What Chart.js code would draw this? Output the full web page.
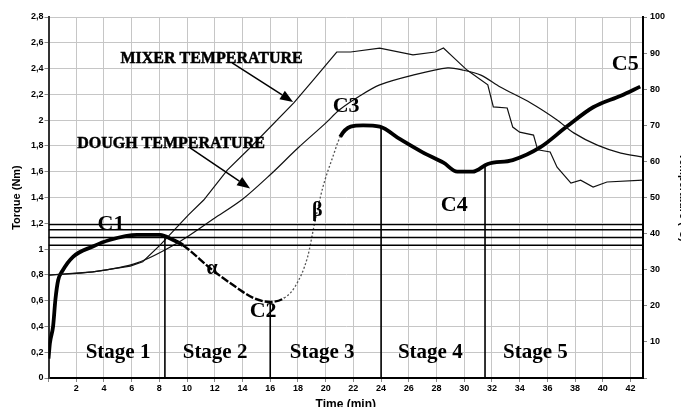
<!DOCTYPE html>
<html><head><meta charset="utf-8">
<script src="https://cdn.jsdelivr.net/npm/chart.js@4.4.1/dist/chart.umd.min.js"></script>
<style>
html,body{margin:0;padding:0;background:#fff;overflow:hidden;width:681px;height:407px}
#wrap{position:relative;width:690px;height:414px}
canvas{display:block}
</style></head><body>
<div id="wrap"><canvas id="c" width="690" height="414"></canvas></div>
<script>
// ---- data ----
const timeMin  = [0, 0.1, 0.33, 0.5, 0.7, 1.0, 1.77, 3.2, 4.4, 6.4, 8.05, 9.0, 9.7, 11.8, 13.6, 14.8, 16.0, 17.0, 17.8, 18.7, 19.2, 19.8, 20.5, 21.05, 21.8, 22.7, 23.9, 25.4, 27.0, 28.5, 29.5, 30.6, 31.7, 33.5, 35.5, 37.4, 39.3, 41.3, 42.7];
const torqueNm = [0.15, 0.27, 0.40, 0.61, 0.76, 0.83, 0.94, 1.02, 1.07, 1.11, 1.11, 1.07, 1.03, 0.84, 0.70, 0.62, 0.59, 0.62, 0.71, 0.94, 1.20, 1.48, 1.71, 1.87, 1.95, 1.96, 1.95, 1.85, 1.75, 1.67, 1.60, 1.60, 1.66, 1.69, 1.79, 1.95, 2.10, 2.19, 2.26];

const mixerTime = [0, 3.2, 5.9, 6.8, 8.05, 10.1, 11.2, 12.9, 14.6, 17.7, 19.1, 20.8, 21.8, 23.9, 26.3, 27.9, 28.5, 29.2, 30.2, 31.7, 32.1, 33.1, 33.5, 34.0, 35.0, 35.3, 36.2, 36.7, 37.7, 38.4, 39.3, 40.3, 42.9];
const mixerTemp = [28.5, 29.4, 31.0, 32.2, 36.8, 45.2, 49.3, 57.6, 64.0, 76.2, 82.5, 90.3, 90.3, 91.4, 89.5, 90.3, 91.4, 88.9, 85.3, 81.2, 75.1, 74.8, 69.5, 68.1, 67.3, 63.2, 62.6, 58.4, 54.0, 54.8, 52.9, 54.3, 54.8];

const doughTime = [0, 3.2, 6.4, 9.3, 12.0, 14.0, 16.0, 18.0, 20.0, 21.0, 22.4, 23.9, 26.3, 28.8, 29.9, 31.2, 32.6, 34.8, 36.7, 37.9, 39.6, 41.3, 42.9];
const doughTemp = [28.5, 29.4, 31.9, 37.4, 44.3, 49.5, 56.3, 63.7, 70.6, 74.3, 78.0, 81.2, 83.9, 85.9, 85.3, 83.9, 80.6, 76.2, 71.5, 67.9, 64.5, 62.3, 61.2];

const limitLevels   = [1.19, 1.15, 1.09, 1.03];
const stageLineTime = [8.4, 16, 24, 31.5];
const stageLineTop  = [1.11, 0.59, 1.95, 1.66];

const torqueTickLabels = ['0','0,2','0,4','0,6','0,8','1','1,2','1,4','1,6','1,8','2','2,2','2,4','2,6','2,8'];
const tempTickLabels   = ['','10','20','30','40','50','60','70','80','90','100'];
const timeTickLabels   = ['','2','4','6','8','10','12','14','16','18','20','22','24','26','28','30','32','34','36','38','40','42'];

const pointText   = ['C1','C2','C3','C4','C5','\u03B2','\u03B1'];
const pointTime   = [4.51, 15.49, 21.48, 29.28, 41.62, 19.39, 11.8];
const pointTorque = [1.148, 0.473, 2.064, 1.296, 2.39, 1.257, 0.807];

const stageText   = ['Stage 1','Stage 2','Stage 3','Stage 4','Stage 5'];
const stageTime   = [5.02, 12.02, 19.75, 27.55, 35.13];
const stageTorque = [0.155, 0.155, 0.155, 0.155, 0.155];

const curveText   = ['MIXER TEMPERATURE','DOUGH TEMPERATURE'];
const curveTime   = [11.77, 8.84];
const curveTorque = [2.444, 1.784];
const arrowFromTime = [13.25, 10.22], arrowFromTorque = [2.444, 1.784];
const arrowToTime   = [17.65, 14.55], arrowToTorque   = [2.141, 1.47];

// ---- build datasets ----
const zip = (xs, ys) => xs.map((x, i) => ({x, y: ys[i]}));
const datasets = [];
limitLevels.forEach(v => datasets.push({data: [{x:0,y:v},{x:42.9,y:v}], borderColor:'#000', borderWidth:1.4, pointRadius:0, yAxisID:'y'}));
stageLineTime.forEach((t, i) => datasets.push({data: [{x:t,y:0},{x:t,y:stageLineTop[i]}], borderColor:'#000', borderWidth:1.6, pointRadius:0, yAxisID:'y'}));
datasets.push({data: zip(mixerTime, mixerTemp), yAxisID:'y2', borderColor:'#111', borderWidth:1.2, pointRadius:0, tension:0});
datasets.push({data: zip(doughTime, doughTemp), yAxisID:'y2', borderColor:'#111', borderWidth:1.2, pointRadius:0, tension:0.3});
const inBeta  = c => c.p0.parsed.x >= 16.9 && c.p0.parsed.x < 21;
const inAlpha = c => c.p0.parsed.x >= 9.7 && c.p0.parsed.x < 16.9;
datasets.push({data: zip(timeMin, torqueNm), yAxisID:'y', borderColor:'#000', borderWidth:3.8, pointRadius:0, cubicInterpolationMode:'monotone',
  segment:{
    borderWidth: c => inBeta(c) ? 1.3 : (inAlpha(c) ? 2.4 : 3.8),
    borderColor: c => inBeta(c) ? '#555' : '#000',
    borderDash: c => inBeta(c) ? [2,2] : (inAlpha(c) ? [8,2] : [])
  }});

const serif = '"Liberation Serif","Times New Roman",serif';
const sans = '"Liberation Sans",Arial,sans-serif';

const annot = {
  id: 'annot',
  afterDatasetsDraw(chart) {
    const {ctx, scales: {x, y}} = chart;
    ctx.save();
    ctx.fillStyle = '#000'; ctx.strokeStyle = '#000';
    ctx.textAlign = 'center'; ctx.textBaseline = 'alphabetic';
    pointText.forEach((s, i) => {
      ctx.font = (i >= 5 ? 'bold 20px ' : 'bold 22px ') + serif;
      ctx.fillText(s, x.getPixelForValue(pointTime[i]), y.getPixelForValue(pointTorque[i]));
    });
    ctx.font = 'bold 21px ' + serif;
    stageText.forEach((s, i) => ctx.fillText(s, x.getPixelForValue(stageTime[i]), y.getPixelForValue(stageTorque[i])));
    ctx.font = 'bold 16px ' + serif;
    ctx.lineWidth = 0.5;
    curveText.forEach((s, i) => {
      const px = x.getPixelForValue(curveTime[i]), py = y.getPixelForValue(curveTorque[i]);
      ctx.fillText(s, px, py); ctx.strokeText(s, px, py);
    });
    ctx.lineWidth = 1.5;
    arrowFromTime.forEach((t, i) => {
      const x0 = x.getPixelForValue(t), y0 = y.getPixelForValue(arrowFromTorque[i]);
      const x1 = x.getPixelForValue(arrowToTime[i]), y1 = y.getPixelForValue(arrowToTorque[i]);
      const a = Math.atan2(y1 - y0, x1 - x0), L = 13, W = 5;
      const bx = x1 - L * Math.cos(a), by = y1 - L * Math.sin(a);
      ctx.beginPath(); ctx.moveTo(x0, y0); ctx.lineTo(bx, by); ctx.stroke();
      ctx.beginPath(); ctx.moveTo(x1, y1);
      ctx.lineTo(bx + W * Math.sin(a), by - W * Math.cos(a));
      ctx.lineTo(bx - W * Math.sin(a), by + W * Math.cos(a));
      ctx.closePath(); ctx.fill();
    });
    ctx.restore();
  }
};

new Chart(document.getElementById('c'), {
  type: 'line',
  data: {datasets},
  plugins: [annot],
  options: {
    responsive: false, animation: false, devicePixelRatio: 1,
    layout: {padding: {top: 17, left: 0, right: 0, bottom: 0}},
    plugins: {legend: {display: false}, tooltip: {enabled: false}},
    scales: {
      x: {type: 'linear', min: 0, max: 42.9,
        afterFit: s => { s.height = 36; },
        ticks: {stepSize: 2, includeBounds: false, autoSkip: false, maxRotation: 0, padding: 1,
          color: '#000', font: {family: sans, size: 9, weight: 'bold'},
          callback: v => timeTickLabels[Math.round(v / 2)] ?? ''},
        grid: {color: '#c6c6c6', lineWidth: 1, tickLength: 4, tickColor: '#888'},
        border: {color: '#000', width: 2},
        title: {display: true, text: 'Time (min)', color: '#000', font: {family: sans, size: 12, weight: 'bold'}, padding: {top: 0, bottom: 2}}
      },
      y: {type: 'linear', position: 'left', min: 0, max: 2.8,
        afterFit: s => { s.width = 48.5; },
        ticks: {stepSize: 0.2, autoSkip: false, padding: 1, color: '#000', font: {family: sans, size: 9, weight: 'bold'},
          callback: v => torqueTickLabels[Math.round(v / 0.2)] ?? ''},
        grid: {color: '#c6c6c6', lineWidth: 1, tickLength: 4, tickColor: '#888'},
        border: {color: '#333', width: 2},
        title: {display: true, text: 'Torque (Nm)', color: '#000', font: {family: sans, size: 11, weight: 'bold'}, padding: {top: 10, bottom: 0}}
      },
      y2: {type: 'linear', position: 'right', min: 0, max: 100,
        afterFit: s => { s.width = 47; },
        ticks: {stepSize: 10, autoSkip: false, padding: 3, color: '#000', font: {family: sans, size: 9, weight: 'bold'},
          callback: v => tempTickLabels[Math.round(v / 10)] ?? ''},
        grid: {drawOnChartArea: false, tickLength: 4, tickColor: '#888'},
        border: {color: '#000', width: 2},
        title: {display: true, text: 'Temperature (\u00B0C)', color: '#000', font: {family: sans, size: 11, weight: 'bold'}, padding: {top: 0, bottom: 0}}
      }
    }
  }
});
</script>
</body></html>
